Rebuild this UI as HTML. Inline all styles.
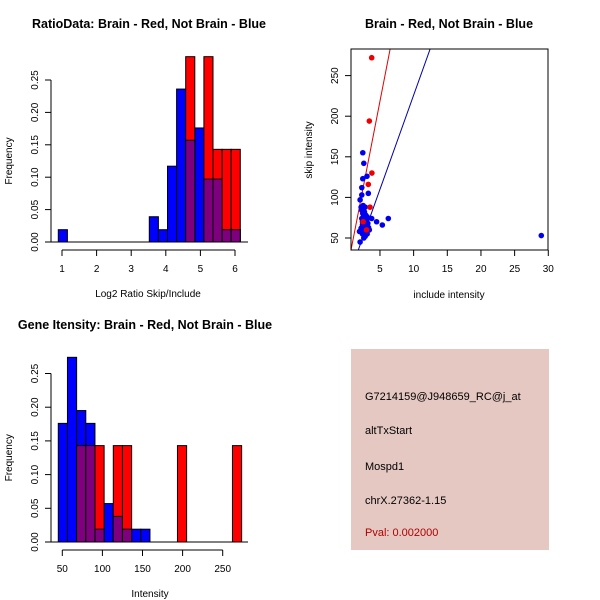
<!DOCTYPE html>
<html><head><meta charset="utf-8"><style>
body{margin:0;background:#fff}
svg{display:block;font-family:"Liberation Sans",sans-serif}
</style></head><body>
<svg id="chart" width="600" height="600" viewBox="0 0 600 600" xmlns="http://www.w3.org/2000/svg">
<rect width="600" height="600" fill="#fff"/>
<g id="p1"></g>
<g id="p2"></g>
<g id="p3"></g>
<g id="p4">
<rect x="351" y="349" width="198" height="201" fill="#e5c8c2"/>
<text x="365" y="400" font-size="11">G7214159@J948659_RC@j_at</text>
<text x="365" y="434" font-size="11">altTxStart</text>
<text x="365" y="470" font-size="11">Mospd1</text>
<text x="365" y="504" font-size="11">chrX.27362-1.15</text>
<text x="365" y="536" font-size="11" fill="#b00000">Pval: 0.002000</text>
</g>
</svg>
<script>
// ---- Ratio histogram data ----
const ratioBinStart = 0.893, ratioBinWidth = 0.263;
const ratioBlue = [0.019,0,0,0,0,0,0,0,0,0,0.039,0.019,0.117,0.236,0.157,0.176,0.097,0.097,0.019,0.019];
const ratioRed  = [0,0,0,0,0,0,0,0,0,0,0,0,0,0,0.286,0,0.286,0.143,0.143,0.143];
const ratioXTicks = [1,2,3,4,5,6];
const freqTicks = ["0.00","0.05","0.10","0.15","0.20","0.25"];
// ---- Intensity histogram data ----
const intBinStart = 45, intBinWidth = 11.43;
const intBlue = [0.176,0.274,0.195,0.176,0.019,0.057,0.038,0.019,0.019,0.019,0,0,0,0,0,0,0,0,0,0];
const intRed  = [0,0,0.143,0.143,0.143,0,0.143,0.143,0,0,0,0,0,0.143,0,0,0,0,0,0.143];
const intXTicks = [50,100,150,200,250];
// ---- Scatter data ----
const blueX = [2.45,2.6,2.45,3.07,2.3,3.27,2.3,2.05,2.8,2.2,2.45,3.77,4.5,5.35,6.24,3.0,2.6,3.42,1.96,2.7,2.05,28.96,
  2.5,2.7,2.9,3.1,2.3,2.6,2.8,3.2,2.4,2.7,2.9,2.2,2.5,3.0,2.6,2.4,2.8,3.3,2.5,2.3,2.7,2.9,3.1,2.6,2.4];
const blueY = [155,142,123,126,112,105,103,97,88,88,80,74,70,66,74,72,66,60,58,54,45,53,
  85,82,78,76,74,72,70,68,66,64,62,62,60,58,56,55,52,63,90,84,79,58,55,50,70];
const redX = [3.77,3.42,3.8,3.27,3.52,2.5,3.0];
const redY = [272,194,130,116,88,70,60];
const redLine = [5.4, 42.6];   // intercept, slope
const blueLine = [-6.1, 23.2];
const scXTicks = [5,10,15,20,25,30];
const scYTicks = [50,100,150,200,250];

const NS="http://www.w3.org/2000/svg";
function mk(parent,tag,attrs,text){const e=document.createElementNS(NS,tag);for(const k in attrs)e.setAttribute(k,attrs[k]);if(text!==undefined)e.textContent=text;parent.appendChild(e);return e;}

function hist(g,o){
  const X=v=>o.x0+(v-o.vx0)*o.kx, Y=f=>o.y0-f*o.ky;
  for(let i=0;i<o.blue.length;i++){
    const a=o.bs+i*o.bw,b=a+o.bw;
    if(o.blue[i]>0){const r=mk(g,'rect',{x:X(a),y:Y(o.blue[i]),width:X(b)-X(a),height:o.blue[i]*o.ky,fill:'#0000ff',stroke:'#000','stroke-width':1});
      
      }
  }
  for(let i=0;i<o.red.length;i++){
    const a=o.bs+i*o.bw,b=a+o.bw;
    if(o.red[i]>0){const r=mk(g,'rect',{x:X(a),y:Y(o.red[i]),width:X(b)-X(a),height:o.red[i]*o.ky,fill:'#ff0000',stroke:'#000','stroke-width':1});
      
      }
    const m=Math.min(o.red[i],o.blue[i]);
    if(m>0){const r=mk(g,'rect',{x:X(a),y:Y(m),width:X(b)-X(a),height:m*o.ky,fill:'#7f007f',stroke:'#000','stroke-width':1});
      
      }
  }
  mk(g,'line',{x1:o.ax,x2:o.bx,y1:o.y0,y2:o.y0,stroke:'#000'});
  const yt=freqTicks.map(Number);
  mk(g,'line',{x1:o.ax,x2:o.ax,y1:Y(0),y2:Y(0.25),stroke:'#000'});
  yt.forEach((t,i)=>{mk(g,'line',{x1:o.ax-6,x2:o.ax,y1:Y(t),y2:Y(t),stroke:'#000'});
    const tx=mk(g,'text',{x:o.ax-13,y:Y(t),'font-size':10,'text-anchor':'middle',transform:`rotate(-90 ${o.ax-13} ${Y(t)})`},freqTicks[i]);
    
    });
  const xl=o.ticks, yb=o.y0+8;
  mk(g,'line',{x1:X(xl[0]),x2:X(xl[xl.length-1]),y1:yb,y2:yb,stroke:'#000'});
  xl.forEach(t=>{mk(g,'line',{x1:X(t),x2:X(t),y1:yb,y2:yb+6,stroke:'#000'});
    const tx=mk(g,'text',{x:X(t),y:yb+22,'font-size':10,'text-anchor':'middle'},t);
    
    });
  const yl=mk(g,'text',{x:12,y:(Y(0)+Y(0.25))/2,'font-size':10,'text-anchor':'middle',transform:`rotate(-90 12 ${(Y(0)+Y(0.25))/2})`},'Frequency');
  
  
  const xt=mk(g,'text',{x:o.xlx,y:o.y0+55,'font-size':10,'text-anchor':'middle'},o.xlab);
  
  
  const ti=mk(g,'text',{x:o.tx,y:o.ty,'font-size':12.5,'font-weight':'bold','text-anchor':'middle'},o.title);
  
  
}

hist(document.getElementById('p1'),{x0:62,vx0:1,kx:34.6,y0:242,ky:648,bs:ratioBinStart,bw:ratioBinWidth,blue:ratioBlue,red:ratioRed,
  ax:51,bx:248,ticks:ratioXTicks,xlab:'Log2 Ratio Skip/Include',xlx:148,title:'RatioData: Brain - Red, Not Brain - Blue',tx:149,ty:28});
hist(document.getElementById('p3'),{x0:62.3,vx0:50,kx:0.802,y0:542,ky:674,bs:intBinStart,bw:intBinWidth,blue:intBlue,red:intRed,
  ax:51,bx:248,ticks:intXTicks,xlab:'Intensity',xlx:150,title:'Gene Itensity: Brain - Red, Not Brain - Blue',tx:145,ty:329});

(function(){
  const g=document.getElementById('p2');
  const X=v=>346.3+v*6.733, Y=v=>238-(v-50)*0.812;
  const cp=mk(g,'clipPath',{id:'sc'});mk(cp,'rect',{x:351,y:49,width:197,height:201});
  [[redLine,'#dd0000','red-fit-line'],[blueLine,'#0000aa','blue-fit-line']].forEach(([l,c,n])=>{
    const x1=0.7,x2=30.1;
    const ln=mk(g,'line',{x1:X(x1),y1:Y(l[0]+l[1]*x1),x2:X(x2),y2:Y(l[0]+l[1]*x2),stroke:c,'clip-path':'url(#sc)'});
    
    
  });
  blueX.forEach((x,i)=>{const c=mk(g,'circle',{cx:X(x),cy:Y(blueY[i]),r:2.8,fill:'#0000ee','clip-path':'url(#sc)'});
    
    });
  redX.forEach((x,i)=>{const c=mk(g,'circle',{cx:X(x),cy:Y(redY[i]),r:2.8,fill:'#ee0000','clip-path':'url(#sc)'});
    
    });
  mk(g,'rect',{x:351,y:49,width:197,height:201,fill:'none',stroke:'#000'});
  scXTicks.forEach(t=>{mk(g,'line',{x1:X(t),x2:X(t),y1:250,y2:256,stroke:'#000'});
    const tx=mk(g,'text',{x:X(t),y:272,'font-size':10,'text-anchor':'middle'},t);
    
    });
  scYTicks.forEach(t=>{mk(g,'line',{x1:345,x2:351,y1:Y(t),y2:Y(t),stroke:'#000'});
    const tx=mk(g,'text',{x:338,y:Y(t),'font-size':10,'text-anchor':'middle',transform:`rotate(-90 338 ${Y(t)})`},t);
    
    });
  const yl=mk(g,'text',{x:312,y:150,'font-size':10,'text-anchor':'middle',transform:'rotate(-90 312 150)'},'skip intensity');
  
  
  const xl=mk(g,'text',{x:449,y:298,'font-size':10,'text-anchor':'middle'},'include intensity');
  
  
  const ti=mk(g,'text',{x:449,y:28,'font-size':12.5,'font-weight':'bold','text-anchor':'middle'},'Brain - Red, Not Brain - Blue');
  
  
})();
</script>
</body></html>
